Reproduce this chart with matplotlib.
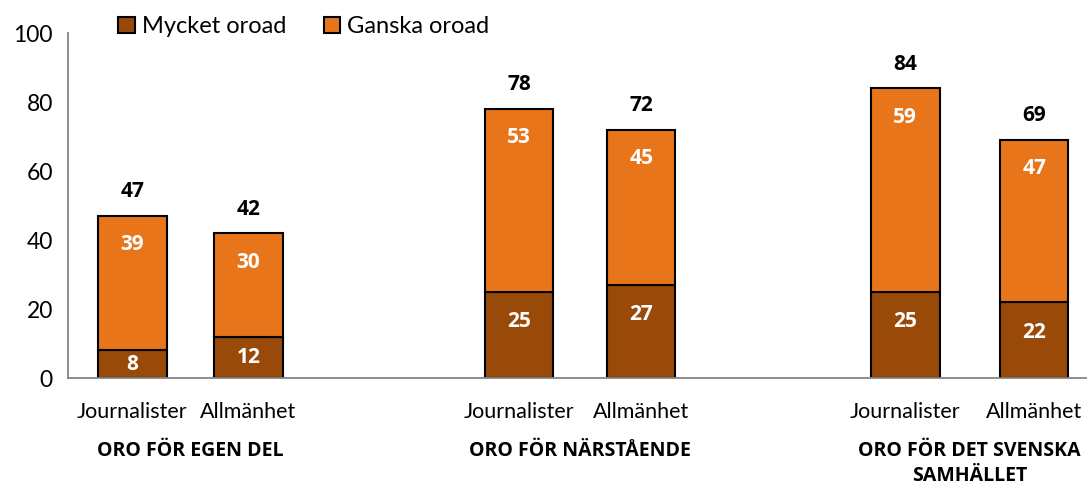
import matplotlib.pyplot as plt

plt.rcParams['font.family'] = ['Lato', 'DejaVu Sans']

bar_labels = ["Journalister", "Allmänhet", "Journalister", "Allmänhet", "Journalister", "Allmänhet"]
groups = ["ORO FÖR EGEN DEL", "ORO FÖR NÄRSTÅENDE", "ORO FÖR DET SVENSKA\nSAMHÄLLET"]
mycket = [8, 12, 25, 27, 25, 22]
ganska = [39, 30, 53, 45, 59, 47]

c_dark = "#994A08"
c_orange = "#E8751A"
bold_font = ['Open Sans', 'DejaVu Sans']

fig = plt.figure(figsize=(10.87, 4.87), dpi=100)
ax = fig.add_axes([0.0626, 0.2238, 0.9374, 0.7084])

xs = [0, 0.9, 3, 3.95, 6, 7]
w = 0.53
b1 = ax.bar(xs, mycket, w, color=c_dark, edgecolor="black", linewidth=1.5, label="Mycket oroad")
b2 = ax.bar(xs, ganska, w, bottom=mycket, color=c_orange, edgecolor="black", linewidth=1.5, label="Ganska oroad")

px = 72 / 100  # points per pixel
lab = dict(ha="center", va="center", fontsize=15, fontweight="bold", family=bold_font)
for x, m, g in zip(xs, mycket, ganska):
    if m * 3.45 < 56:
        ax.text(x, m / 2, str(m), color="white", **lab)
    else:
        ax.annotate(str(m), (x, m), xytext=(0, -30 * px), textcoords="offset points", color="white", **lab)
    ax.annotate(str(g), (x, m + g), xytext=(0, -29 * px), textcoords="offset points", color="white", **lab)
    ax.annotate(str(m + g), (x, m + g), xytext=(0, 24 * px), textcoords="offset points", color="black", **lab)

ax.set_xlim(-0.5, 7.41)
ax.set_ylim(0, 100)
ax.set_yticks([0, 20, 40, 60, 80, 100])
ax.tick_params(axis="y", length=0, labelsize=16.5, pad=11)
ax.set_xticks(xs)
ax.set_xticklabels(bar_labels)
ax.tick_params(axis="x", length=0, labelsize=15.5, pad=17)

for s in ["top", "right"]:
    ax.spines[s].set_visible(False)
for s in ["left", "bottom"]:
    ax.spines[s].set_color("#868686")
    ax.spines[s].set_linewidth(1.3)

for i, gname in enumerate(groups):
    gx = (xs[2 * i] + xs[2 * i + 1]) / 2
    ax.annotate(gname, (gx, 0), xytext=(0, -63 * px), textcoords="offset points",
                ha="center", va="top", fontsize=14, fontweight="bold", family=bold_font,
                linespacing=1.3)

fig.legend(handles=[b1, b2], loc="upper left", bbox_to_anchor=(0.089, 1.01), ncol=2,
           frameon=False, fontsize=17, handlelength=0.7, handleheight=0.7,
           handletextpad=0.3, columnspacing=1.6)

fig.savefig("out.png", dpi=100)
